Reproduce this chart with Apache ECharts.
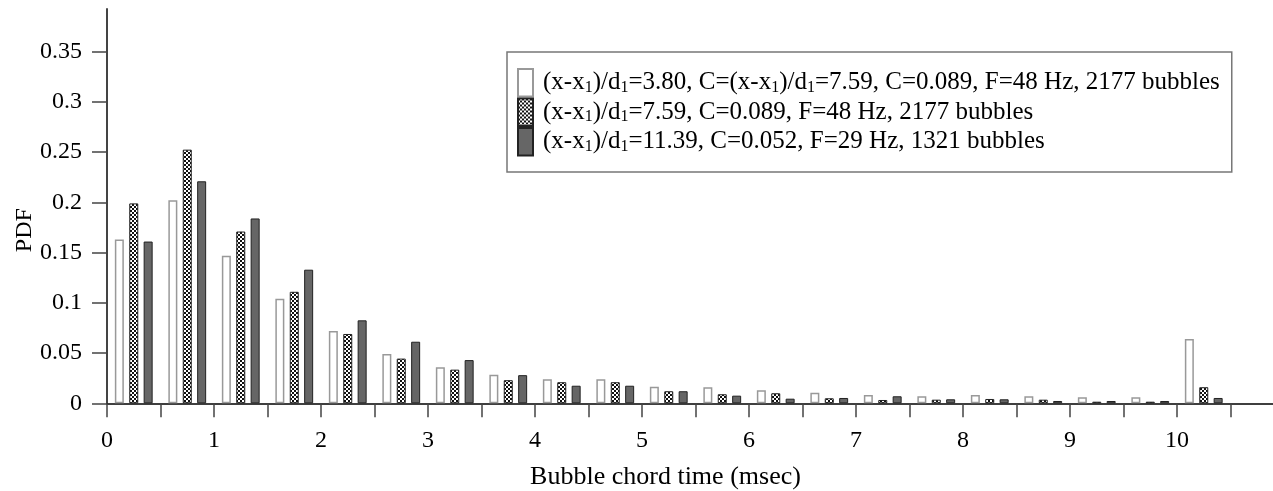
<!DOCTYPE html>
<html><head><meta charset="utf-8">
<script src="https://cdn.jsdelivr.net/npm/echarts@6/dist/echarts.min.js"></script>
<style>html,body{margin:0;padding:0;background:#fff}#c{width:1273px;height:491px}</style>
</head><body><div id="c"></div>
<script>
// bin centres (msec), 0.5 msec bins
const binCenters = [0.25,0.75,1.25,1.75,2.25,2.75,3.25,3.75,4.25,4.75,5.25,5.75,6.25,6.75,7.25,7.75,8.25,8.75,9.25,9.75,10.25];
const xLabelValues = [0,1,2,3,4,5,6,7,8,9,10];
const xTickValues = [0,0.5,1,1.5,2,2.5,3,3.5,4,4.5,5,5.5,6,6.5,7,7.5,8,8.5,9,9.5,10,10.5];
const yTickValues = [0,0.05,0.1,0.15,0.2,0.25,0.3,0.35];
const seriesNames = [
  '(x-x1)/d1=3.80, C=(x-x1)/d1=7.59, C=0.089, F=48 Hz, 2177 bubbles',
  '(x-x1)/d1=7.59, C=0.089, F=48 Hz, 2177 bubbles',
  '(x-x1)/d1=11.39, C=0.052, F=29 Hz, 1321 bubbles'
];
const pdfWhite = [0.163,0.202,0.147,0.104,0.072,0.049,0.036,0.0285,0.024,0.024,0.0165,0.016,0.013,0.0105,0.0083,0.007,0.0083,0.007,0.006,0.006,0.064];
const pdfChecked = [0.199,0.2525,0.171,0.111,0.069,0.0445,0.0335,0.023,0.021,0.021,0.012,0.009,0.010,0.005,0.0033,0.0036,0.0043,0.0036,0.0016,0.0016,0.016];
const pdfDark = [0.161,0.221,0.184,0.133,0.0826,0.0613,0.043,0.028,0.0175,0.0175,0.012,0.0076,0.0046,0.0053,0.007,0.004,0.004,0.0023,0.0023,0.0023,0.0053];

function checker(){
  const c=document.createElement('canvas'); c.width=4; c.height=4;
  const g=c.getContext('2d');
  g.fillStyle='#fff'; g.fillRect(0,0,4,4);
  g.fillStyle='#111'; g.fillRect(0,0,2,2); g.fillRect(2,2,2,2);
  return c;
}
const font='"Liberation Serif","Times New Roman",serif';
const chart=echarts.init(document.getElementById('c'),null,{renderer:'canvas'});
function mk(vals){ return binCenters.map((x,i)=>[x,vals[i]]); }
const option={
  animation:false,
  textStyle:{fontFamily:font},
  grid:{left:107,top:9,width:1177,height:394.3,outerBoundsMode:'none'},
  xAxis:{type:'value',min:0,max:11,
    axisLine:{show:true,lineStyle:{color:'#000',width:1.5}},
    axisTick:{show:true,length:14,customValues:xTickValues,lineStyle:{color:'#444',width:1.5}},
    axisLabel:{customValues:xLabelValues,margin:25,fontSize:24,color:'#000',fontFamily:font},
    splitLine:{show:false},
    name:'Bubble chord time (msec)',nameLocation:'middle',nameGap:61,nameMoveOverlap:false,
    nameTextStyle:{fontSize:26,color:'#000',fontFamily:font,padding:[0,60,0,0]}
  },
  yAxis:{type:'value',min:0,max:0.3925,
    axisLine:{show:true,lineStyle:{color:'#444',width:2}},
    axisTick:{show:true,length:15,customValues:yTickValues,lineStyle:{color:'#444',width:1.5}},
    axisLabel:{customValues:yTickValues,margin:25,fontSize:24,color:'#000',fontFamily:font},
    splitLine:{show:false},
    name:'PDF',nameLocation:'middle',nameGap:70,nameMoveOverlap:false,
    nameTextStyle:{fontSize:24,color:'#000',fontFamily:font,padding:[0,48,0,0]}
  },
  legend:{orient:'vertical',left:507,top:52,itemWidth:15,itemHeight:27.5,itemGap:0,
    padding:[16,12,15.5,10],borderColor:'#777',borderWidth:1.5,backgroundColor:'#fff',
    selectedMode:false,icon:'rect',
    formatter:n=>n.replace(/([xd])1/g,'$1{s|1}'),
    textStyle:{fontSize:25,color:'#000',fontFamily:font,lineHeight:26,padding:[0,0,0,5],
      rich:{s:{fontSize:16,lineHeight:8,verticalAlign:'bottom',fontFamily:font,color:'#000'}}}
  },
  series:[
    {type:'bar',name:seriesNames[0],data:mk(pdfWhite),barWidth:9,barGap:'60%',
     itemStyle:{color:'#fff',borderColor:'#999',borderWidth:1.5}},
    {type:'bar',name:seriesNames[1],data:mk(pdfChecked),barWidth:9,barGap:'60%',
     itemStyle:{color:{image:checker(),repeat:'repeat'},borderColor:'#222',borderWidth:1}},
    {type:'bar',name:seriesNames[2],data:mk(pdfDark),barWidth:9,barGap:'60%',
     itemStyle:{color:'#666',borderColor:'#222',borderWidth:1}}
  ]
};
chart.setOption(option);
</script></body></html>
